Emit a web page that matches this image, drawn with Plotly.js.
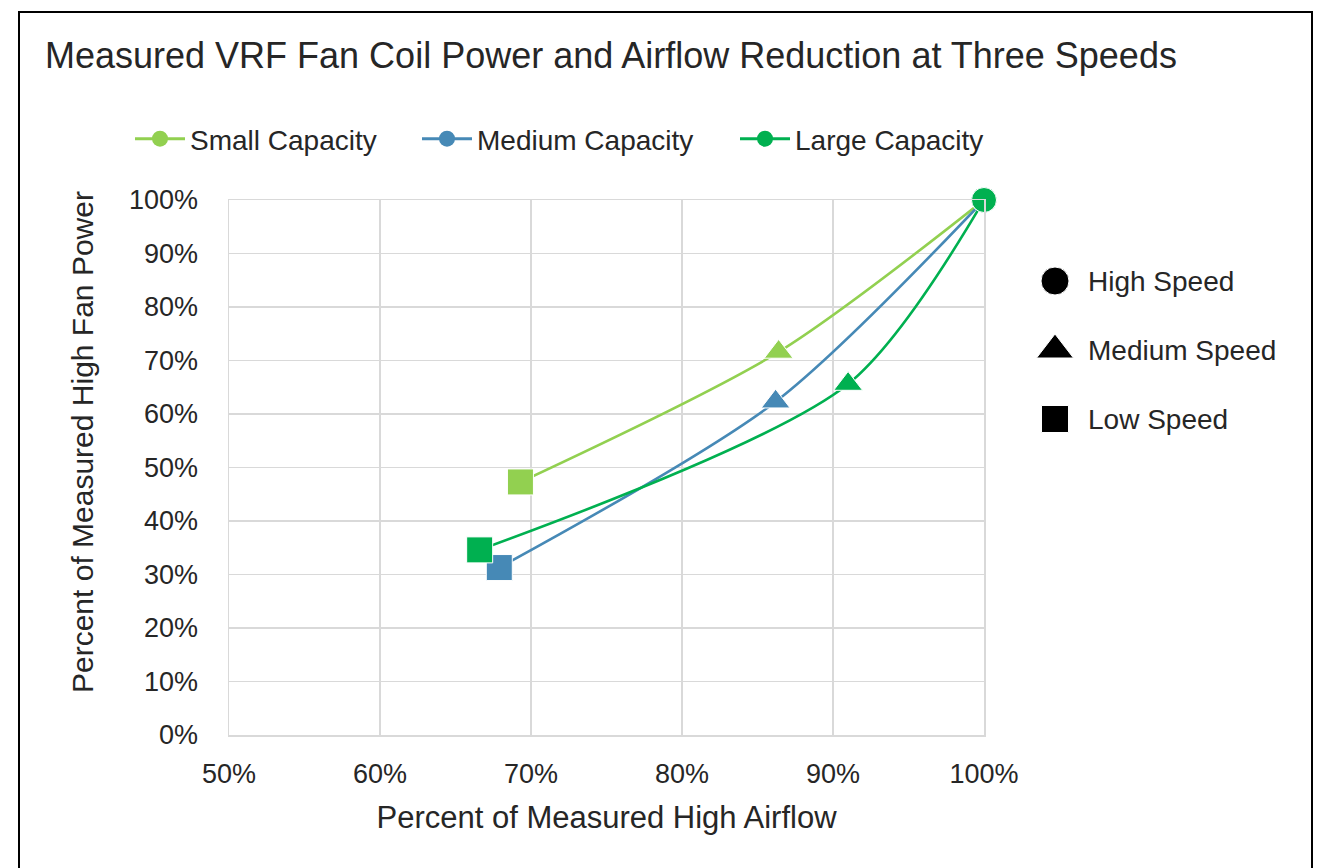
<!DOCTYPE html>
<html>
<head>
<meta charset="utf-8">
<script src="https://cdn.plot.ly/plotly-3.0.1.min.js"></script>
<style>
  html, body { margin: 0; padding: 0; background: #fff; }
  #chart { width: 1317px; height: 868px; }
</style>
</head>
<body>
<div id="chart"></div>
<script>
// ---- Data (percent of measured high-speed values) ----
const seriesNames = ['Small Capacity', 'Medium Capacity', 'Large Capacity'];
const seriesColors = ['#92D050', '#4689B6', '#00B050'];
// order of points: High, Medium, Low speed
const smallAirflow  = [100, 86.4, 69.3];
const smallPower    = [100, 71.6, 47.3];
const mediumAirflow = [100, 86.2, 67.9];
const mediumPower   = [100, 62.3, 31.3];
const largeAirflow  = [100, 91.0, 66.6];
const largePower    = [100, 65.6, 34.6];

const speedLabels  = ['High Speed', 'Medium Speed', 'Low Speed'];
const speedSymbols = ['circle', 'triangle-up', 'square'];
const speedIndex   = [0, 1, 2];

const xTickVals = [50, 60, 70, 80, 90, 100];
const yTickVals = [0, 10, 20, 30, 40, 50, 60, 70, 80, 90, 100];

const titleText = 'Measured VRF Fan Coil Power and Airflow Reduction at Three Speeds';
const xTitle = 'Percent of Measured High Airflow';
const yTitle = 'Percent of Measured High Fan Power';

// ---- geometry ----
const W = 1317, H = 868;
const mL = 229, mR = 0, mT = 200, mB = 133;
const plotW = W - mL - mR, plotH = H - mT - mB;
const px2paperX = p => (p - mL) / plotW;
const px2paperY = p => (H - mB - p) / plotH;

const FONT = 'Liberation Sans, Arial, sans-serif';
const TXT = '#262626';

const allX = [smallAirflow, mediumAirflow, largeAirflow];
const allY = [smallPower, mediumPower, largePower];
const legendIds = ['legend', 'legend2', 'legend3'];

const traces = [];
// data traces
for (let i = 0; i < 3; i++) {
  traces.push({
    type: 'scatter', mode: 'lines+markers',
    x: allX[i], y: allY[i],
    xaxis: 'x', yaxis: 'y',
    cliponaxis: false,
    line: { color: seriesColors[i], width: 2.6, shape: 'spline', smoothing: 0.8 },
    marker: { color: seriesColors[i], symbol: speedSymbols, size: [25, 25, 26], opacity: 1 },
    showlegend: false, hoverinfo: 'x+y', name: seriesNames[i]
  });
}
// legend-only traces for the capacity legend
for (let i = 0; i < 3; i++) {
  traces.push({
    type: 'scatter', mode: 'lines+markers',
    x: [null], y: [null],
    xaxis: 'x', yaxis: 'y',
    name: seriesNames[i],
    legend: legendIds[i],
    line: { color: seriesColors[i], width: 3 },
    marker: { color: seriesColors[i], symbol: 'circle', size: 16, opacity: 1 },
    showlegend: true
  });
}
// speed key (drawn on its own hidden axes)
traces.push({
  type: 'scatter', mode: 'markers',
  x: speedIndex.map(() => 0), y: speedIndex,
  xaxis: 'x2', yaxis: 'y2',
  cliponaxis: false,
  marker: { color: '#000', symbol: speedSymbols, size: [28, 32, 27], opacity: 1 },
  showlegend: false, hoverinfo: 'skip'
});

const legendBase = {
  orientation: 'h', xref: 'container', yref: 'container',
  xanchor: 'left', yanchor: 'middle',
  font: { family: FONT, size: 28, color: TXT },
  bgcolor: 'rgba(0,0,0,0)', itemwidth: 50, itemclick: false, itemdoubleclick: false
};
const legendX = [130, 417, 735];

const layout = {
  width: W, height: H,
  margin: { l: mL, r: mR, t: mT, b: mB, pad: 0 },
  paper_bgcolor: '#fff', plot_bgcolor: '#fff',
  font: { family: FONT, color: TXT },
  title: {
    text: titleText, xref: 'container', yref: 'container',
    x: 45 / W, xanchor: 'left', y: 1 - 55 / H, yanchor: 'middle',
    font: { family: FONT, size: 36, color: TXT }
  },
  xaxis: {
    domain: [0, 755 / plotW], range: [50, 100],
    tickvals: xTickVals, ticktext: xTickVals.map(v => v + '%'),
    showgrid: true, gridcolor: '#d9d9d9', gridwidth: 1.5,
    showline: true, linecolor: '#d9d9d9', linewidth: 1.5, mirror: true,
    zeroline: false, ticks: '', ticklabelstandoff: 14,
    tickfont: { family: FONT, size: 27, color: TXT },
    title: { text: xTitle, standoff: 18, font: { family: FONT, size: 31, color: TXT } },
    automargin: false, fixedrange: true
  },
  yaxis: {
    domain: [0, 1], range: [0, 100],
    tickvals: yTickVals, ticktext: yTickVals.map(v => v + '%'),
    showgrid: true, gridcolor: '#d9d9d9', gridwidth: 1.5,
    showline: true, linecolor: '#d9d9d9', linewidth: 1.5, mirror: true,
    zeroline: false, ticks: '', ticklabelstandoff: 24,
    tickfont: { family: FONT, size: 27, color: TXT },
    automargin: false, fixedrange: true
  },
  xaxis2: {
    domain: [px2paperX(1040), 1], range: [-15, 262],
    visible: false, fixedrange: true, anchor: 'y2'
  },
  yaxis2: {
    domain: [0, 1], range: [(735 - 281) / 69, -(281 - 200) / 69],
    visible: false, fixedrange: true, anchor: 'x2'
  },
  legend:  Object.assign({}, legendBase, { x: legendX[0] / W, y: 1 - 139 / H }),
  legend2: Object.assign({}, legendBase, { x: legendX[1] / W, y: 1 - 139 / H }),
  legend3: Object.assign({}, legendBase, { x: legendX[2] / W, y: 1 - 139 / H }),
  annotations: [
    {
      text: yTitle, xref: 'paper', yref: 'paper',
      x: px2paperX(82), y: px2paperY(442), xanchor: 'center', yanchor: 'middle',
      textangle: -90, showarrow: false,
      font: { family: FONT, size: 30, color: TXT }
    }
  ].concat(speedLabels.map((t, i) => ({
    text: t, xref: 'x2', yref: 'y2', x: 31, y: speedIndex[i],
    xanchor: 'left', yanchor: 'middle', showarrow: false,
    font: { family: FONT, size: 28, color: TXT }
  }))),
  shapes: [
    {
      type: 'rect', xref: 'paper', yref: 'paper',
      x0: px2paperX(19), x1: px2paperX(1312), y0: px2paperY(900), y1: px2paperY(12),
      line: { color: '#000', width: 2 }, fillcolor: 'rgba(0,0,0,0)', layer: 'above'
    }
  ],
  showlegend: true,
  hovermode: 'closest'
};

Plotly.newPlot('chart', traces, layout, { displayModeBar: false, staticPlot: true });
</script>
</body>
</html>
